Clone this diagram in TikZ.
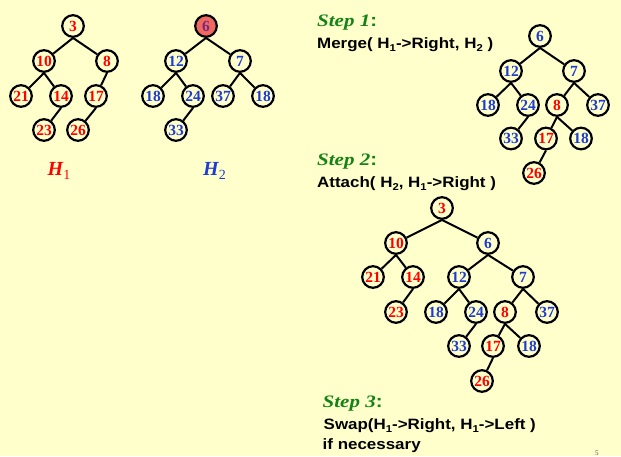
\documentclass[tikz,border=0pt]{standalone}
\usepackage{fontspec}
\setmainfont{Liberation Serif}
\newfontfamily\arialf[FakeStretch=1.13]{Liberation Sans}
\newfontfamily\stepf[FakeStretch=1.2]{Liberation Serif}
\definecolor{bgy}{RGB}{255,255,204}
\definecolor{nred}{RGB}{255,0,0}
\definecolor{nblue}{RGB}{30,60,210}
\definecolor{salmon}{RGB}{240,105,95}
\definecolor{npurple}{RGB}{120,40,130}
\definecolor{stepgreen}{RGB}{20,130,20}
\newcommand\subx[1]{\raisebox{-3pt}{\fontsize{10}{10}\selectfont #1}}
\newcommand\stepx[1]{{\color{stepgreen}\stepf\fontsize{17.5}{17.5}\selectfont\bfseries\itshape Step #1}{\color{stepgreen}\arialf\bfseries\fontsize{18}{18}\selectfont :}}
\tikzset{
  hn/.style={circle, draw=black, line width=2.2pt, minimum size=21.6pt, inner sep=0pt, fill=bgy,
    font=\fontsize{15.5}{15.5}\selectfont\bfseries},
  rn/.style={hn, text=nred},
  bn/.style={hn, text=nblue},
  edge/.style={line width=2pt, black},
  txt/.style={anchor=base west, inner sep=0pt, font=\arialf\bfseries\fontsize{15}{15}\selectfont},
  stp/.style={anchor=base west, inner sep=0pt},
  hlab/.style={anchor=base west, inner sep=0pt, font=\fontsize{20}{20}\selectfont}
}
\begin{document}
\begin{tikzpicture}[x=1pt,y=-1pt]
\fill[bgy] (0,0) rectangle (621,456);
\useasboundingbox (0,0) rectangle (621,456);
% H1
\node[rn] (a3) at (73,26) {3};
\node[rn] (a10) at (44,61) {10};
\node[rn] (a8) at (107,61) {8};
\node[rn] (a21) at (21,96) {21};
\node[rn] (a14) at (61,96) {14};
\node[rn] (a17) at (96,96) {17};
\node[rn] (a23) at (44,130) {23};
\node[rn] (a26) at (78,130) {26};
\foreach \p/\c in {a3/a10,a3/a8,a10/a21,a10/a14,a8/a17,a14/a23,a17/a26}
  \draw[edge] (\p.south) -- (\c);
% H2
\node[hn, fill=salmon, text=npurple] (b6) at (206,26) {6};
\node[bn] (b12) at (176,61) {12};
\node[bn] (b7) at (240,61) {7};
\node[bn] (b18) at (153,96) {18};
\node[bn] (b24) at (193,96) {24};
\node[bn] (b37) at (223,96) {37};
\node[bn] (b18r) at (263,96) {18};
\node[bn] (b33) at (176,130) {33};
\foreach \p/\c in {b6/b12,b6/b7,b12/b18,b12/b24,b7/b37,b7/b18r,b24/b33}
  \draw[edge] (\p.south) -- (\c);
\node[hlab, text=nred] (h1) at (47.5,175.5) {\bfseries\itshape H\raisebox{-4pt}{\fontsize{14}{14}\selectfont\upshape\mdseries 1}};
\node[hlab, text=nblue] (h2) at (203,175.5) {\bfseries\itshape H\raisebox{-4pt}{\fontsize{14}{14}\selectfont\upshape\mdseries 2}};
% Step 1
\node[stp] (s1) at (317,26.5) {\stepx{1}};
\node[txt] (m1) at (317,48) {Merge( H\subx{1}->Right, H\subx{2} )};
\node[bn] (c6) at (540,36) {6};
\node[bn] (c12) at (511,71) {12};
\node[bn] (c7) at (574,71) {7};
\node[bn] (c18) at (488,105) {18};
\node[bn] (c24) at (528,105) {24};
\node[rn] (c8) at (557,105) {8};
\node[bn] (c37) at (598,105) {37};
\node[bn] (c33) at (511,138.5) {33};
\node[rn] (c17) at (546,138.5) {17};
\node[bn] (c18r) at (581,138.5) {18};
\node[rn] (c26) at (534,173) {26};
\foreach \p/\c in {c6/c12,c6/c7,c12/c18,c12/c24,c7/c8,c7/c37,c24/c33,c8/c17,c8/c18r,c17/c26}
  \draw[edge] (\p.south) -- (\c);
% Step 2
\node[stp] (s2) at (317,165) {\stepx{2}};
\node[txt] (m2) at (317,187) {Attach( H\subx{2}, H\subx{1}->Right )};
\node[rn] (d3) at (442,208) {3};
\node[rn] (d10) at (396,243) {10};
\node[bn] (d6) at (488,243) {6};
\node[rn] (d21) at (373,277) {21};
\node[rn] (d14) at (413,277) {14};
\node[bn] (d12) at (459,277) {12};
\node[bn] (d7) at (523,277) {7};
\node[rn] (d23) at (396,312) {23};
\node[bn] (d18) at (436,312) {18};
\node[bn] (d24) at (476,312) {24};
\node[rn] (d8) at (505,312) {8};
\node[bn] (d37) at (547,312) {37};
\node[bn] (d33) at (459,346) {33};
\node[rn] (d17) at (493,346) {17};
\node[bn] (d18r) at (529,346) {18};
\node[rn] (d26) at (482,381) {26};
\foreach \p/\c in {d3/d10,d3/d6,d10/d21,d10/d14,d14/d23,d6/d12,d6/d7,d12/d18,d12/d24,d7/d8,d7/d37,d24/d33,d8/d17,d8/d18r,d17/d26}
  \draw[edge] (\p.south) -- (\c);
% Step 3
\node[stp] (s3) at (322.5,407.5) {\stepx{3}};
\node[txt] (m3) at (323.5,429.5) {Swap(H\subx{1}->Right, H\subx{1}->Left )};
\node[txt] (m4) at (322.5,449.5) {if necessary};
\node[anchor=base west, inner sep=0pt, font=\fontsize{7}{7}\selectfont, text=black!70] (pg) at (595,455.5) {5};
\end{tikzpicture}
\end{document}
